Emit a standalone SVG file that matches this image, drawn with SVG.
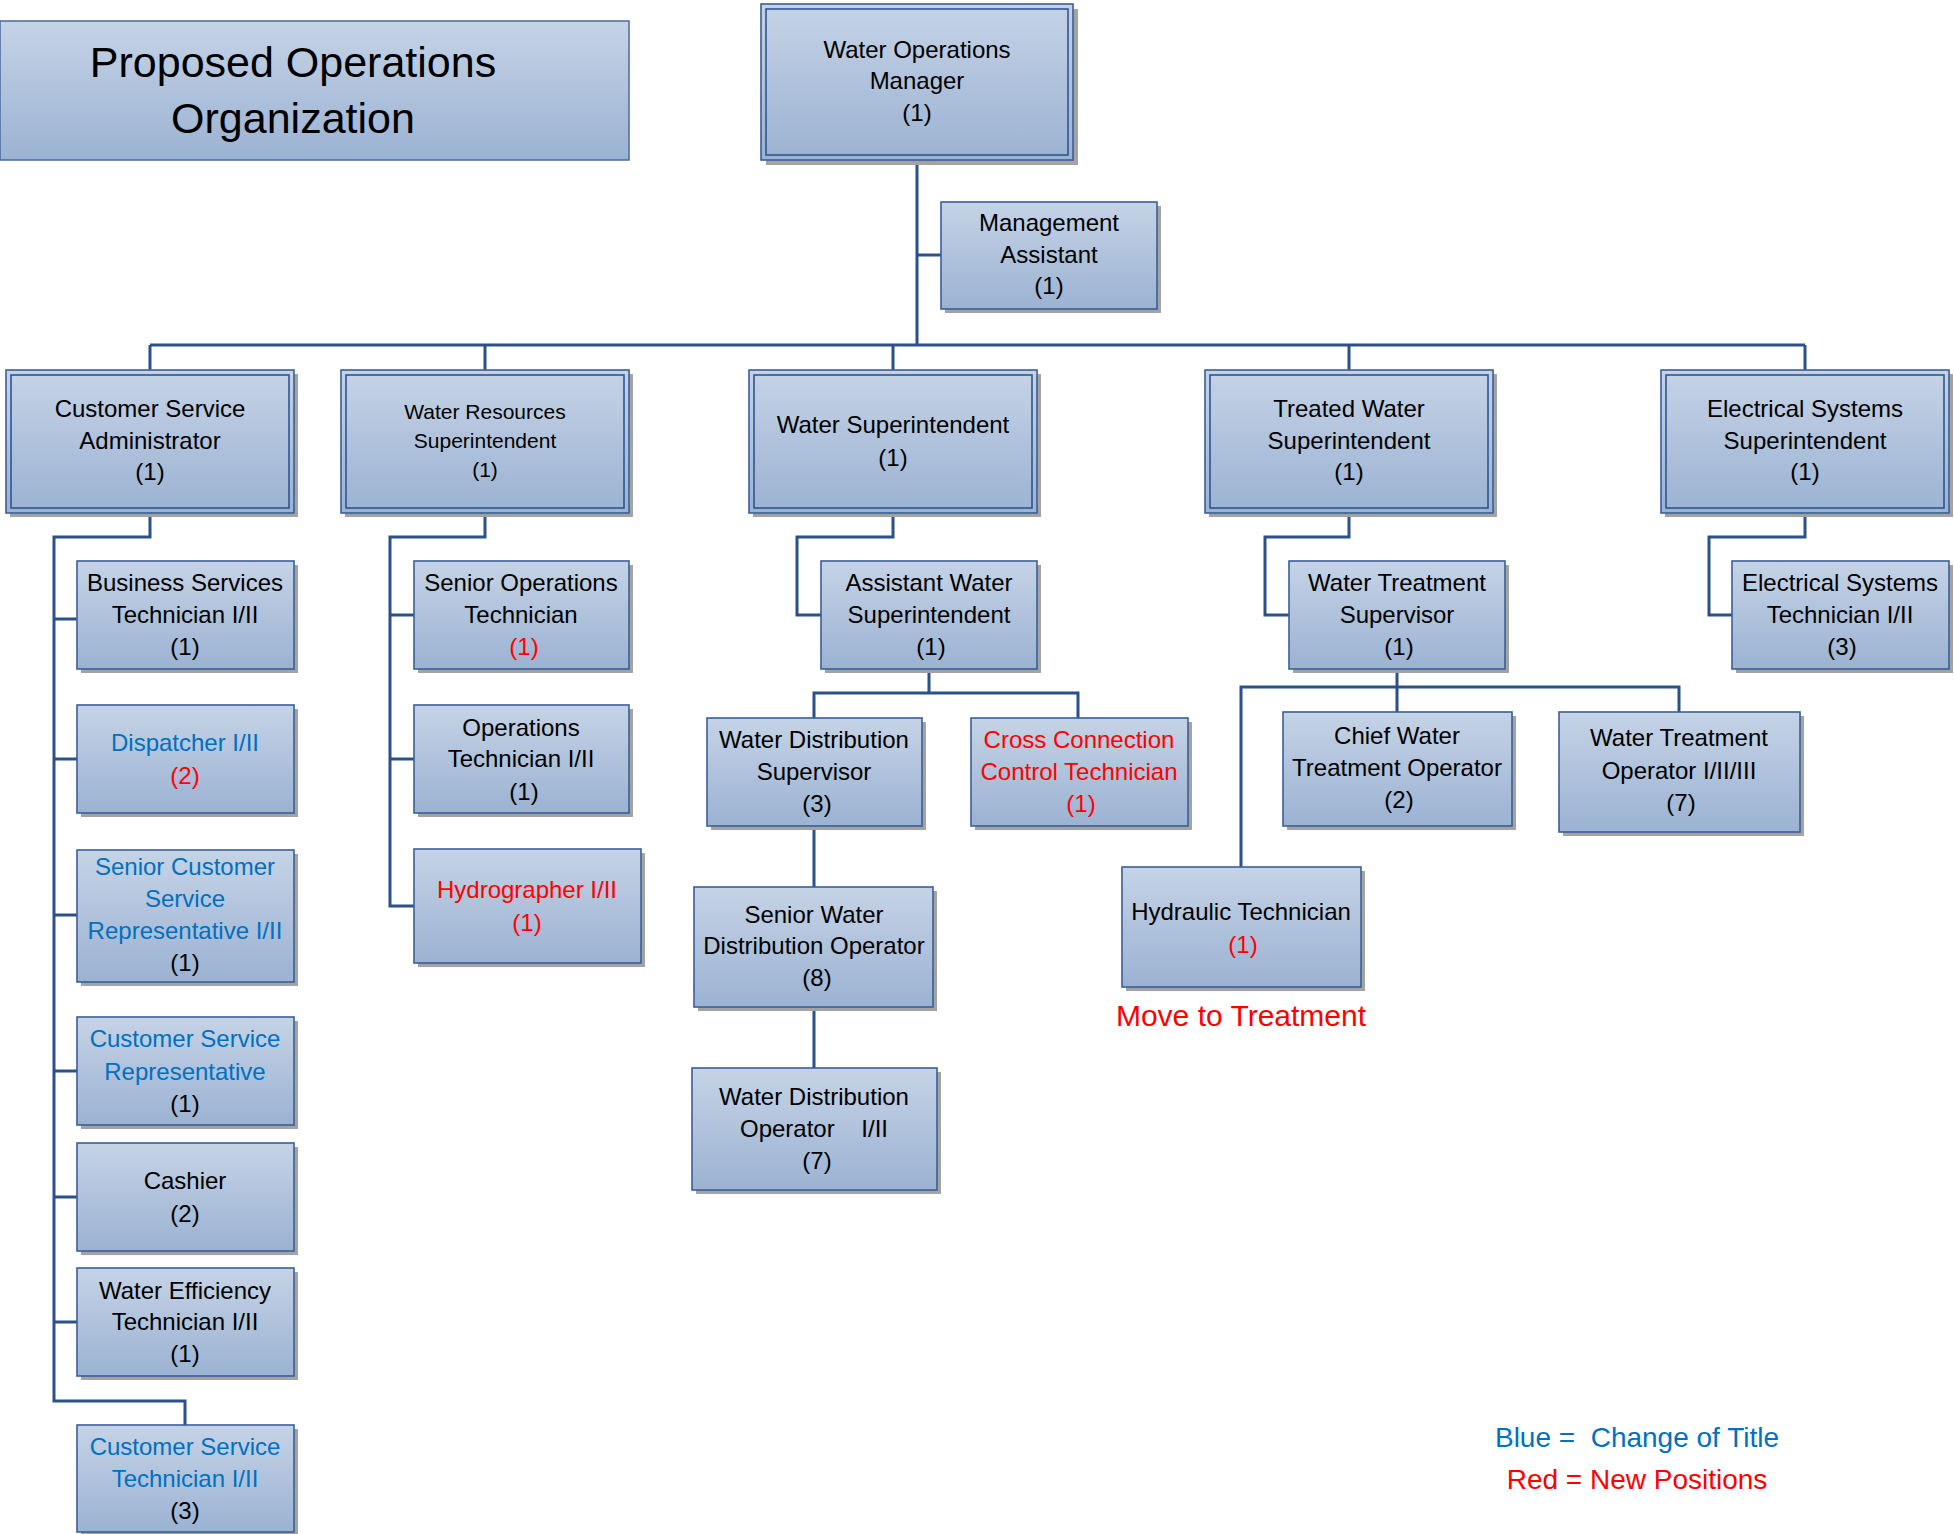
<svg xmlns="http://www.w3.org/2000/svg" width="1954" height="1534" viewBox="0 0 1954 1534">
<defs>
<linearGradient id="g" x1="0" y1="0" x2="0" y2="1">
<stop offset="0" stop-color="#c5d3e6"/>
<stop offset="1" stop-color="#9bb2d2"/>
</linearGradient>
</defs>
<style>
.sh{fill:#a3a3a3}
.bx{fill:url(#g);stroke:#3a5f98;stroke-width:1.6}
.in{fill:none;stroke:#2e5594;stroke-width:1.6}
.t{font-family:"Liberation Sans",Arial,sans-serif;font-size:24px;fill:#000;text-anchor:middle;white-space:pre}
.s{font-size:21px}
.b{fill:#0070c0}
.r{fill:#ff0000}
.c{fill:none;stroke:#2a5189;stroke-width:3}
</style>
<rect width="1954" height="1534" fill="#fff"/>

<g id="connectors">
<path class="c" d="M917,160V345M917,255H941"/>
<path class="c" d="M150,345H1805M150,345V370M485,345V370M893,345V370M1349,345V370M1805,345V370"/>
<path class="c" d="M150,513V537H54V1401H185V1425M54,619H77M54,759H77M54,915H77M54,1071H77M54,1197H77M54,1322H77"/>
<path class="c" d="M485,513V537H390V906H414M390,615H414M390,759H414"/>
<path class="c" d="M893,513V537H797V615H821"/>
<path class="c" d="M929,669V693M814,718V693H1078V718"/>
<path class="c" d="M814,826V887M814,1007V1068"/>
<path class="c" d="M1349,513V537H1265V615H1289"/>
<path class="c" d="M1397,669V712M1241,867V687H1679V712"/>
<path class="c" d="M1805,513V537H1709V615H1732"/>
</g>

<g id="title">
<rect x="0" y="21" width="629" height="139" fill="url(#g)" stroke="#4a6a9e" stroke-width="1.5"/>
<text class="t" x="293" y="77" style="font-size:43px">Proposed Operations</text>
<text class="t" x="293" y="133" style="font-size:43px">Organization</text>
</g>

<g id="n-wom">
<rect class="sh" x="766" y="9" width="312" height="156"/>
<rect class="bx" x="761" y="4" width="312" height="156"/>
<rect class="in" x="766" y="9" width="302" height="146"/>
<text class="t" x="917" y="58">Water Operations</text>
<text class="t" x="917" y="89">Manager</text>
<text class="t" x="917" y="121">(1)</text>
</g>

<g id="n-ma">
<rect class="sh" x="945" y="206" width="216" height="107"/>
<rect class="bx" x="941" y="202" width="216" height="107"/>
<text class="t" x="1049" y="231">Management</text>
<text class="t" x="1049" y="263">Assistant</text>
<text class="t" x="1049" y="294">(1)</text>
</g>

<g id="n-csa">
<rect class="sh" x="10" y="374" width="288" height="143"/>
<rect class="bx" x="6" y="370" width="288" height="143"/>
<rect class="in" x="11" y="375" width="278" height="133"/>
<text class="t" x="150" y="417">Customer Service</text>
<text class="t" x="150" y="449">Administrator</text>
<text class="t" x="150" y="480">(1)</text>
</g>

<g id="n-wrs">
<rect class="sh" x="345" y="374" width="288" height="143"/>
<rect class="bx" x="341" y="370" width="288" height="143"/>
<rect class="in" x="346" y="375" width="278" height="133"/>
<text class="t s" x="485" y="419">Water Resources</text>
<text class="t s" x="485" y="448">Superintendent</text>
<text class="t s" x="485" y="477">(1)</text>
</g>

<g id="n-ws">
<rect class="sh" x="753" y="374" width="288" height="143"/>
<rect class="bx" x="749" y="370" width="288" height="143"/>
<rect class="in" x="754" y="375" width="278" height="133"/>
<text class="t" x="893" y="433">Water Superintendent</text>
<text class="t" x="893" y="466">(1)</text>
</g>

<g id="n-tws">
<rect class="sh" x="1209" y="374" width="288" height="143"/>
<rect class="bx" x="1205" y="370" width="288" height="143"/>
<rect class="in" x="1210" y="375" width="278" height="133"/>
<text class="t" x="1349" y="417">Treated Water</text>
<text class="t" x="1349" y="449">Superintendent</text>
<text class="t" x="1349" y="480">(1)</text>
</g>

<g id="n-ess">
<rect class="sh" x="1665" y="374" width="288" height="143"/>
<rect class="bx" x="1661" y="370" width="288" height="143"/>
<rect class="in" x="1666" y="375" width="278" height="133"/>
<text class="t" x="1805" y="417">Electrical Systems</text>
<text class="t" x="1805" y="449">Superintendent</text>
<text class="t" x="1805" y="480">(1)</text>
</g>

<g id="n-bst">
<rect class="sh" x="81" y="565" width="217" height="108"/>
<rect class="bx" x="77" y="561" width="217" height="108"/>
<text class="t" x="185" y="591">Business Services</text>
<text class="t" x="185" y="623">Technician I/II</text>
<text class="t" x="185" y="655">(1)</text>
</g>

<g id="n-disp">
<rect class="sh" x="81" y="709" width="217" height="108"/>
<rect class="bx" x="77" y="705" width="217" height="108"/>
<text class="t b" x="185" y="751">Dispatcher I/II</text>
<text class="t r" x="185" y="784">(2)</text>
</g>

<g id="n-scsr">
<rect class="sh" x="81" y="854" width="217" height="132"/>
<rect class="bx" x="77" y="850" width="217" height="132"/>
<text class="t b" x="185" y="875">Senior Customer</text>
<text class="t b" x="185" y="907">Service</text>
<text class="t b" x="185" y="939">Representative I/II</text>
<text class="t" x="185" y="971">(1)</text>
</g>

<g id="n-csr">
<rect class="sh" x="81" y="1021" width="217" height="108"/>
<rect class="bx" x="77" y="1017" width="217" height="108"/>
<text class="t b" x="185" y="1047">Customer Service</text>
<text class="t b" x="185" y="1080">Representative</text>
<text class="t" x="185" y="1112">(1)</text>
</g>

<g id="n-cash">
<rect class="sh" x="81" y="1147" width="217" height="108"/>
<rect class="bx" x="77" y="1143" width="217" height="108"/>
<text class="t" x="185" y="1189">Cashier</text>
<text class="t" x="185" y="1222">(2)</text>
</g>

<g id="n-wet">
<rect class="sh" x="81" y="1272" width="217" height="108"/>
<rect class="bx" x="77" y="1268" width="217" height="108"/>
<text class="t" x="185" y="1299">Water Efficiency</text>
<text class="t" x="185" y="1330">Technician I/II</text>
<text class="t" x="185" y="1362">(1)</text>
</g>

<g id="n-cst">
<rect class="sh" x="81" y="1429" width="217" height="108"/>
<rect class="bx" x="77" y="1425" width="217" height="107"/>
<text class="t b" x="185" y="1455">Customer Service</text>
<text class="t b" x="185" y="1487">Technician I/II</text>
<text class="t" x="185" y="1519">(3)</text>
</g>

<g id="n-sot">
<rect class="sh" x="418" y="565" width="215" height="108"/>
<rect class="bx" x="414" y="561" width="215" height="108"/>
<text class="t" x="521" y="591">Senior Operations</text>
<text class="t" x="521" y="623">Technician</text>
<text class="t r" x="524" y="655">(1)</text>
</g>

<g id="n-ot">
<rect class="sh" x="418" y="709" width="215" height="108"/>
<rect class="bx" x="414" y="705" width="215" height="108"/>
<text class="t" x="521" y="736">Operations</text>
<text class="t" x="521" y="767">Technician I/II</text>
<text class="t" x="524" y="800">(1)</text>
</g>

<g id="n-hydro">
<rect class="sh" x="418" y="853" width="227" height="114"/>
<rect class="bx" x="414" y="849" width="227" height="114"/>
<text class="t r" x="527" y="898">Hydrographer I/II</text>
<text class="t r" x="527" y="931">(1)</text>
</g>

<g id="n-asw">
<rect class="sh" x="825" y="565" width="216" height="108"/>
<rect class="bx" x="821" y="561" width="216" height="108"/>
<text class="t" x="929" y="591">Assistant Water</text>
<text class="t" x="929" y="623">Superintendent</text>
<text class="t" x="931" y="655">(1)</text>
</g>

<g id="n-wds">
<rect class="sh" x="711" y="722" width="215" height="108"/>
<rect class="bx" x="707" y="718" width="215" height="108"/>
<text class="t" x="814" y="748">Water Distribution</text>
<text class="t" x="814" y="780">Supervisor</text>
<text class="t" x="817" y="812">(3)</text>
</g>

<g id="n-ccct">
<rect class="sh" x="975" y="722" width="217" height="108"/>
<rect class="bx" x="971" y="718" width="217" height="108"/>
<text class="t r" x="1079" y="748">Cross Connection</text>
<text class="t r" x="1079" y="780">Control Technician</text>
<text class="t r" x="1081" y="812">(1)</text>
</g>

<g id="n-swdo">
<rect class="sh" x="698" y="891" width="239" height="120"/>
<rect class="bx" x="694" y="887" width="239" height="120"/>
<text class="t" x="814" y="923">Senior Water</text>
<text class="t" x="814" y="954">Distribution Operator</text>
<text class="t" x="817" y="986">(8)</text>
</g>

<g id="n-wdo">
<rect class="sh" x="696" y="1072" width="245" height="122"/>
<rect class="bx" x="692" y="1068" width="245" height="122"/>
<text class="t" x="814" y="1105">Water Distribution</text>
<text class="t" x="814" y="1137">Operator    I/II</text>
<text class="t" x="817" y="1169">(7)</text>
</g>

<g id="n-wts">
<rect class="sh" x="1293" y="565" width="216" height="108"/>
<rect class="bx" x="1289" y="561" width="216" height="108"/>
<text class="t" x="1397" y="591">Water Treatment</text>
<text class="t" x="1397" y="623">Supervisor</text>
<text class="t" x="1399" y="655">(1)</text>
</g>

<g id="n-cwto">
<rect class="sh" x="1287" y="716" width="229" height="114"/>
<rect class="bx" x="1283" y="712" width="229" height="114"/>
<text class="t" x="1397" y="744">Chief Water</text>
<text class="t" x="1397" y="776">Treatment Operator</text>
<text class="t" x="1399" y="808">(2)</text>
</g>

<g id="n-wto">
<rect class="sh" x="1563" y="716" width="241" height="120"/>
<rect class="bx" x="1559" y="712" width="241" height="120"/>
<text class="t" x="1679" y="746">Water Treatment</text>
<text class="t" x="1679" y="779">Operator I/II/III</text>
<text class="t" x="1681" y="811">(7)</text>
</g>

<g id="n-hyd">
<rect class="sh" x="1126" y="871" width="239" height="120"/>
<rect class="bx" x="1122" y="867" width="239" height="120"/>
<text class="t" x="1241" y="920">Hydraulic Technician</text>
<text class="t r" x="1243" y="953">(1)</text>
</g>

<g id="n-est">
<rect class="sh" x="1736" y="565" width="217" height="108"/>
<rect class="bx" x="1732" y="561" width="217" height="108"/>
<text class="t" x="1840" y="591">Electrical Systems</text>
<text class="t" x="1840" y="623">Technician I/II</text>
<text class="t" x="1842" y="655">(3)</text>
</g>

<g id="notes">
<text class="t r" x="1241" y="1026" style="font-size:30px">Move to Treatment</text>
<text class="t b" x="1637" y="1447" style="font-size:28px">Blue =  Change of Title</text>
<text class="t r" x="1637" y="1489" style="font-size:28px">Red = New Positions</text>
</g>
</svg>
